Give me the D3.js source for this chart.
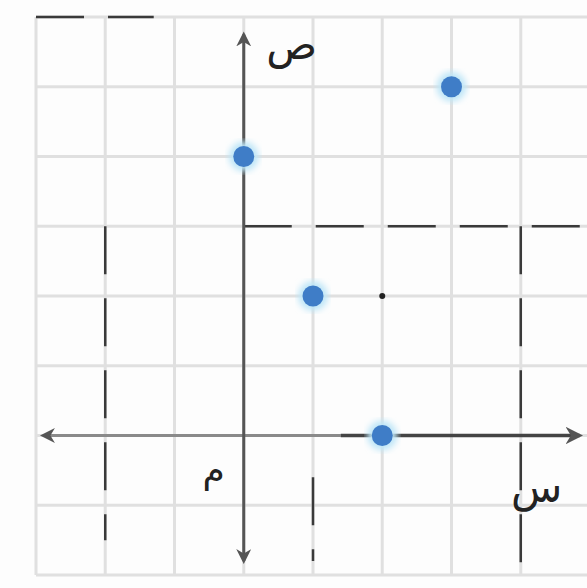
<!DOCTYPE html>
<html lang="ar">
<head>
<meta charset="utf-8">
<title>Grid points</title>
<script src="https://d3js.org/d3.v7.min.js"></script>
<style>
  body { margin: 0; background: #fff; }
</style>
</head>
<body>
<script>
// grid units
var xTicks = [-3, -2, -1, 0, 1, 2, 3, 4, 5];
var yTicks = [-2, -1, 0, 1, 2, 3, 4, 5, 6];

// blue points
var pointX = [0, 3, 1, 2];
var pointY = [4, 5, 2, 0];

// small black pencil dot
var dotX = [2];
var dotY = [2];

// dashed guide lines, [x1, y1, x2, y2] in grid units
var guides = [
  [0, 3, 5, 3],
  [4, 3, 4, -2],
  [-2, 3, -2, -1.5],
  [1, -0.6, 1, -1.8],
  [-3, 6, -1.3, 6]
];

// labels
var labelY = "ص";
var labelX = "س";
var labelO = "م";

var W = 587, H = 588;
var x = d3.scaleLinear().domain([-3, 5]).range([36, 590]);
var y = d3.scaleLinear().domain([-2, 6]).range([575, 17]);

var svg = d3.select("body").append("svg")
  .attr("width", W).attr("height", H);

svg.append("rect").attr("width", W).attr("height", H).attr("fill", "#fdfdfd");

var defs = svg.append("defs");
defs.append("filter").attr("id", "glow")
  .append("feGaussianBlur").attr("stdDeviation", 3);
defs.append("marker").attr("id", "arr")
  .attr("viewBox", "0 0 10 10").attr("refX", 8).attr("refY", 5)
  .attr("markerWidth", 5).attr("markerHeight", 5)
  .attr("orient", "auto-start-reverse")
  .append("path").attr("d", "M0,0 L10,5 L0,10 L3,5 Z").attr("fill", "#555");

// grid
var grid = svg.append("g").attr("stroke", "#e0e0e0").attr("stroke-width", 3);
grid.selectAll(".v").data(xTicks).join("line")
  .attr("x1", d => x(d)).attr("x2", d => x(d))
  .attr("y1", y(6)).attr("y2", y(-2));
grid.selectAll(".h").data(yTicks).join("line")
  .attr("y1", d => y(d)).attr("y2", d => y(d))
  .attr("x1", x(-3)).attr("x2", W);

// dashed guides
svg.append("g").selectAll("line").data(guides).join("line")
  .attr("x1", d => x(d[0])).attr("y1", d => y(d[1]))
  .attr("x2", d => x(d[2])).attr("y2", d => y(d[3]))
  .attr("stroke", "#3a3a3a").attr("stroke-width", 2.5)
  .attr("stroke-dasharray", "48,24");

// x axis: lighter left part, darker right part
svg.append("line")
  .attr("x1", x(-2.9)).attr("x2", x(1.4)).attr("y1", y(0)).attr("y2", y(0))
  .attr("stroke", "#8a8a8a").attr("stroke-width", 3)
  .attr("marker-start", "url(#arr)");
svg.append("line")
  .attr("x1", x(1.4)).attr("x2", x(4.85)).attr("y1", y(0)).attr("y2", y(0))
  .attr("stroke", "#444").attr("stroke-width", 3.5)
  .attr("marker-end", "url(#arr)");

// y axis
svg.append("line")
  .attr("x1", x(0)).attr("x2", x(0)).attr("y1", y(-1.8)).attr("y2", y(5.75))
  .attr("stroke", "#555").attr("stroke-width", 3)
  .attr("marker-start", "url(#arr)").attr("marker-end", "url(#arr)");

// points
var pts = d3.range(pointX.length).map(i => [pointX[i], pointY[i]]);
svg.append("g").selectAll("circle").data(pts).join("circle")
  .attr("cx", d => x(d[0])).attr("cy", d => y(d[1])).attr("r", 15)
  .attr("fill", "#bfe6f7").attr("filter", "url(#glow)");
svg.append("g").selectAll("circle").data(pts).join("circle")
  .attr("cx", d => x(d[0])).attr("cy", d => y(d[1])).attr("r", 10.5)
  .attr("fill", "#3f7dc7");

svg.append("g").selectAll("circle").data(dotX).join("circle")
  .attr("cx", (d, i) => x(d)).attr("cy", (d, i) => y(dotY[i])).attr("r", 3)
  .attr("fill", "#222");

// labels
var font = "DejaVu Sans";
svg.append("text").attr("x", x(0) + 48).attr("y", y(6) + 42)
  .attr("font-family", font).attr("font-size", 42).attr("fill", "#222")
  .attr("text-anchor", "middle").text(labelY);
svg.append("text").attr("x", x(4) + 16).attr("y", y(0) + 66)
  .attr("font-family", font).attr("font-size", 42).attr("fill", "#222")
  .attr("text-anchor", "middle").text(labelX);
svg.append("text").attr("x", x(0) - 30).attr("y", y(0) + 46)
  .attr("font-family", font).attr("font-size", 36).attr("fill", "#222")
  .attr("text-anchor", "middle").text(labelO);
</script>
</body>
</html>
